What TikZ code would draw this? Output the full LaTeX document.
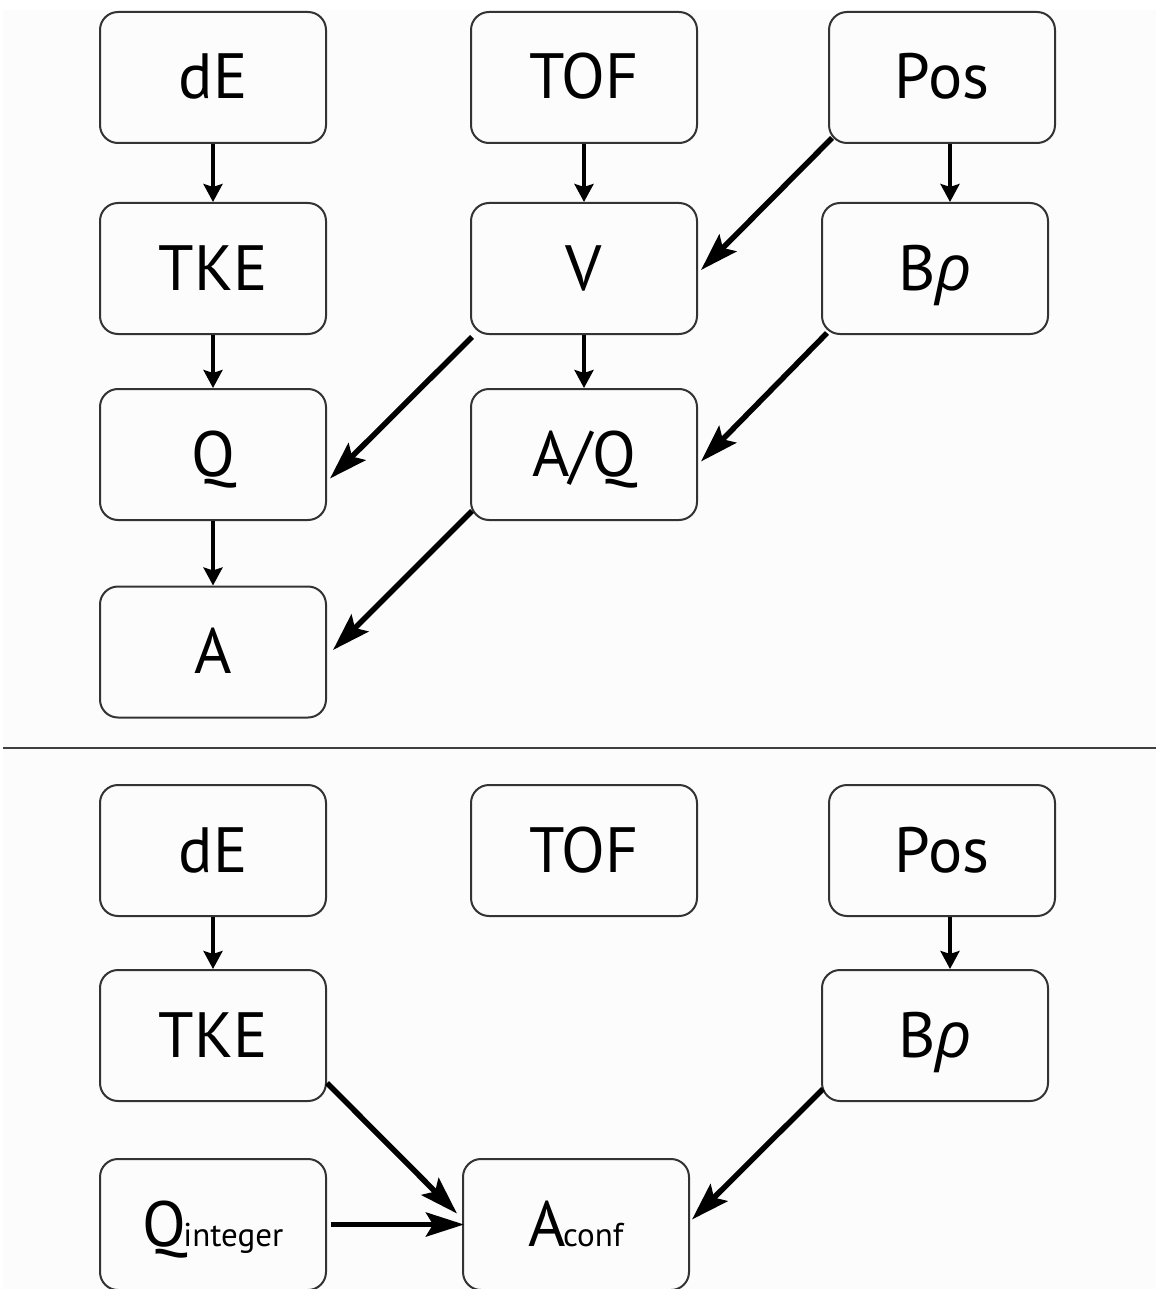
\documentclass[tikz,border=0pt]{standalone}
\usepackage{fontspec}
\setmainfont{PT Sans}
\newfontfamily\rhofont{Open Sans}
\usetikzlibrary{arrows.meta,calc}
\begin{document}
\begin{tikzpicture}[x=1pt,y=-1pt,
  box/.style={draw=black!80,line width=2pt,rounded corners=18pt,
    minimum width=226pt,minimum height=131pt,inner sep=0pt,
    font=\fontsize{64}{64}\selectfont,text height=46pt,text depth=3pt},
  longarrow/.style={line width=5.5pt,-{Stealth[length=38pt,width=24pt,inset=7pt]}},
  shortarrow/.style={line width=4.5pt,-{Stealth[length=18pt,width=19pt,inset=3pt]}}]
\useasboundingbox (0,0) rectangle (1156,1289);
\fill[black!1] (3,10) rectangle (1156,1289);

% upper scheme
\node[box] (dE)  at (213,77.5)  {dE};
\node[box] (TOF) at (584,77.5)  {TOF};
\node[box] (Pos) at (942,77.5)  {Pos};
\node[box] (TKE) at (213,268.5) {TKE};
\node[box] (V)   at (584,268.5) {V};
\node[box] (Brho) at (935,268.5) {B{\rhofont\itshape ρ}};
\node[box] (Q)   at (213,454.5) {Q};
\node[box] (AQ)  at (584,454.5) {A/Q};
\node[box] (A)   at (213,652)   {A};

\draw[shortarrow] (dE.south) -- (TKE.north);
\draw[shortarrow] (TOF.south) -- (V.north);
\draw[shortarrow] ($(Pos.south)+(8,0)$) coordinate (p1) -- (p1 |- Brho.north);
\draw[shortarrow] (TKE.south) -- (Q.north);
\draw[shortarrow] (V.south) -- (AQ.north);
\draw[shortarrow] (Q.south) -- (A.north);

\draw[longarrow] ($(Pos.south west)+(4,-6)$) -- ($(V.east)+(3,1.5)$);
\draw[longarrow] ($(V.south west)+(2,2)$) -- ($(Q.east)+(3,24)$);
\draw[longarrow] ($(Brho.south west)+(6,-2)$) -- ($(AQ.east)+(3,7)$);
\draw[longarrow] ($(AQ.south west)+(2,-10)$) -- ($(A.east)+(6,-2)$);

% divider
\draw[line width=2pt,black!75] (3,748) -- (1156,748);

% lower scheme
\node[box] (dE2)  at (213,850.5)  {dE};
\node[box] (TOF2) at (584,850.5)  {TOF};
\node[box] (Pos2) at (942,850.5)  {Pos};
\node[box] (TKE2) at (213,1035.5) {TKE};
\node[box] (Brho2) at (935,1035.5) {B{\rhofont\itshape ρ}};
\node[box] (Qint) at (213,1224.5) {Q\kern-3pt{\fontsize{33}{33}\selectfont integer}};
\node[box] (Aconf) at (576,1224.5) {A\kern-3pt{\fontsize{33}{33}\selectfont conf}};

\draw[shortarrow] (dE2.south) -- (TKE2.north);
\draw[shortarrow] ($(Pos2.south)+(8,0)$) coordinate (p2) -- (p2 |- Brho2.north);

\draw[longarrow] ($(TKE2.south east)+(0,-19)$) -- ($(Aconf.west)+(-5,-11)$);
\draw[longarrow] ($(Qint.east)+(4,0)$) -- ($(Aconf.west)+(2,0)$);
\draw[longarrow] ($(Brho2.south west)+(2,-13)$) -- ($(Aconf.east)+(2,-5)$);
\end{tikzpicture}
\end{document}
